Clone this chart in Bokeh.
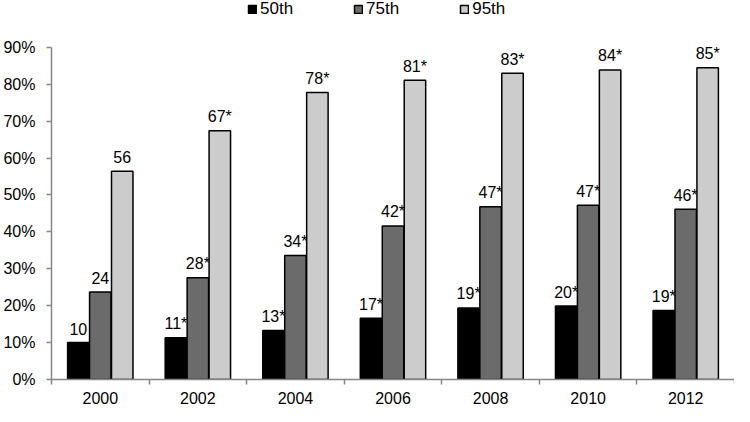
import numpy as np
from bokeh.plotting import figure
from bokeh.models import ColumnDataSource, FixedTicker, Legend, LegendItem, Range1d, CustomJSTickFormatter
from bokeh.core.properties import value
from bokeh.embed import file_html
from bokeh.resources import INLINE

years = ["2000", "2002", "2004", "2006", "2008", "2010", "2012"]
p50 = [10.0, 11.3, 13.3, 16.6, 19.4, 19.9, 18.7]
p75 = [23.7, 27.6, 33.6, 41.6, 46.8, 47.2, 46.1]
p95 = [56.4, 67.4, 77.8, 81.1, 83.0, 83.9, 84.5]
lab50 = ["10", "11*", "13*", "17*", "19*", "20*", "19*"]
lab75 = ["24", "28*", "34*", "42*", "47*", "47*", "46*"]
lab95 = ["56", "67*", "78*", "81*", "83*", "84*", "85*"]
series = [("50th", p50, lab50, "#000000", -0.225),
          ("75th", p75, lab75, "#6b6b6b", 0.0),
          ("95th", p95, lab95, "#cccccc", 0.225)]
yticks = [0, 10, 20, 30, 40, 50, 60, 70, 80, 90]

FONT = "Liberation Sans"
AXIS_COLOR = "#868686"

p = figure(width=734, height=406, output_backend="svg", toolbar_location=None,
           x_range=Range1d(0, len(years)), y_range=Range1d(0, 102.7),
           min_border_left=50, min_border_right=0, min_border_top=0, min_border_bottom=26)
p.outline_line_color = None
p.xgrid.grid_line_color = None
p.ygrid.grid_line_color = None

centers = np.arange(len(years)) + 0.5
items = []
for name, vals, labs, color, off in series:
    src = ColumnDataSource(dict(x=centers + off, top=vals, lab=labs))
    r = p.vbar(x="x", top="top", bottom=0, width=0.22, source=src,
               fill_color=color, line_color="#000000", line_width=1.5)
    p.text(x="x", y="top", text="lab", source=src, text_align="center",
           text_baseline="alphabetic", y_offset=-14, text_font=value(FONT),
           text_font_size="16px", text_color="#000000")
    items.append(LegendItem(label=name, renderers=[r]))

# x axis
p.xaxis.ticker = FixedTicker(ticks=list(centers), minor_ticks=list(range(len(years) + 1)))
p.xaxis.major_label_overrides = {float(c): y for c, y in zip(centers, years)}
p.xaxis.major_tick_out = 0
p.xaxis.major_tick_in = 0
p.xaxis.minor_tick_out = 5
p.xaxis.minor_tick_in = 0
p.xaxis.minor_tick_line_color = AXIS_COLOR
p.xaxis.minor_tick_line_width = 1.5
p.xaxis.axis_line_color = AXIS_COLOR
p.xaxis.axis_line_width = 1.5
p.xaxis.major_label_standoff = 7
p.xaxis.major_label_text_font = FONT
p.xaxis.major_label_text_font_size = "16px"
p.xaxis.major_label_text_color = "#000000"

# y axis
p.yaxis.ticker = FixedTicker(ticks=yticks, minor_ticks=[])
p.yaxis.bounds = (0, 90)
p.yaxis.formatter = CustomJSTickFormatter(code="return tick.toFixed(0) + '%';")
p.yaxis.major_tick_out = 5
p.yaxis.major_tick_in = 0
p.yaxis.major_tick_line_color = AXIS_COLOR
p.yaxis.major_tick_line_width = 1.5
p.yaxis.axis_line_color = AXIS_COLOR
p.yaxis.axis_line_width = 1.5
p.yaxis.major_label_standoff = 11
p.yaxis.major_label_text_font = FONT
p.yaxis.major_label_text_font_size = "16px"
p.yaxis.major_label_text_color = "#000000"

legend = Legend(items=items, orientation="horizontal", location=(196, 360),
                glyph_width=10, glyph_height=10, label_standoff=3, spacing=60,
                padding=0, margin=0, border_line_color=None, background_fill_alpha=0,
                label_text_font=FONT, label_text_font_size="17px", label_text_color="#000000",
                label_height=18)
p.add_layout(legend, "center")

open("out.html", "w").write(file_html(p, INLINE))
